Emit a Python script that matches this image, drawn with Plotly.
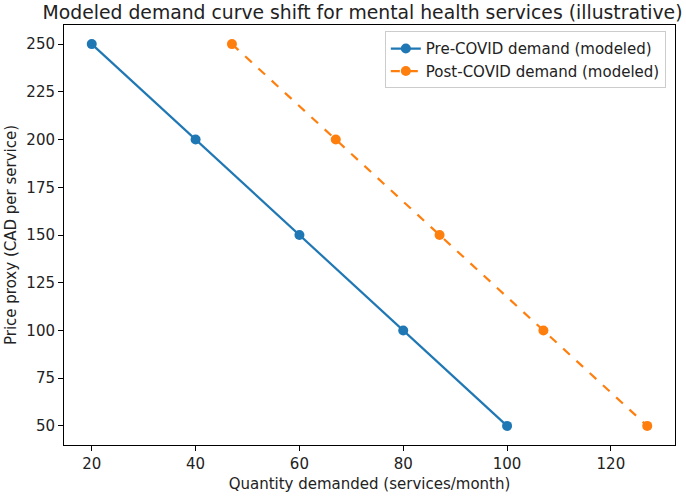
import plotly.graph_objects as go

price = [250, 200, 150, 100, 50]
qty_pre = [20, 40, 60, 80, 100]
qty_post = [47, 67, 87, 107, 127]
x_ticks = [20, 40, 60, 80, 100, 120]
y_ticks = [50, 75, 100, 125, 150, 175, 200, 225, 250]

fig = go.Figure()
fig.add_trace(go.Scatter(x=qty_pre, y=price, mode="lines+markers",
                         name="Pre-COVID demand (modeled)",
                         line=dict(color="#1f77b4", width=2.2),
                         marker=dict(color="#1f77b4", size=10)))
fig.add_trace(go.Scatter(x=qty_post, y=price, mode="lines+markers",
                         name="Post-COVID demand (modeled)",
                         line=dict(color="#ff7f0e", width=2.2, dash="dash"),
                         marker=dict(color="#ff7f0e", size=10)))

axis_common = dict(showgrid=False, zeroline=False, showline=True, mirror=True,
                   linecolor="black", linewidth=1, ticks="outside", ticklen=5,
                   tickcolor="black", tickfont=dict(size=15, color="#222"),
                   title_font=dict(size=15, color="#222"))
fig.update_xaxes(range=[14.65, 132.35], tickvals=x_ticks,
                 title_text="Quantity demanded (services/month)", title_standoff=6,
                 **axis_common)
fig.update_yaxes(range=[40, 260], tickvals=y_ticks,
                 title_text="Price proxy (CAD per service)", title_standoff=6,
                 **axis_common)

fig.update_layout(
    width=686, height=500,
    margin=dict(l=64, r=10, t=25, b=53),
    paper_bgcolor="white", plot_bgcolor="white",
    font=dict(family="DejaVu Sans", color="#222"),
    title=dict(text="Modeled demand curve shift for mental health services (illustrative)",
               xref="paper", x=0.4886, xanchor="center",
               yref="container", y=0.988, yanchor="top",
               font=dict(size=18.8, color="#222")),
    legend=dict(x=0.985, y=0.985, xanchor="right", yanchor="top",
                bordercolor="#cccccc", borderwidth=1, bgcolor="rgba(255,255,255,0.8)",
                font=dict(size=15, color="#222"), tracegroupgap=0,
                itemwidth=30),
    showlegend=True,
)

fig.write_html("out.html")
